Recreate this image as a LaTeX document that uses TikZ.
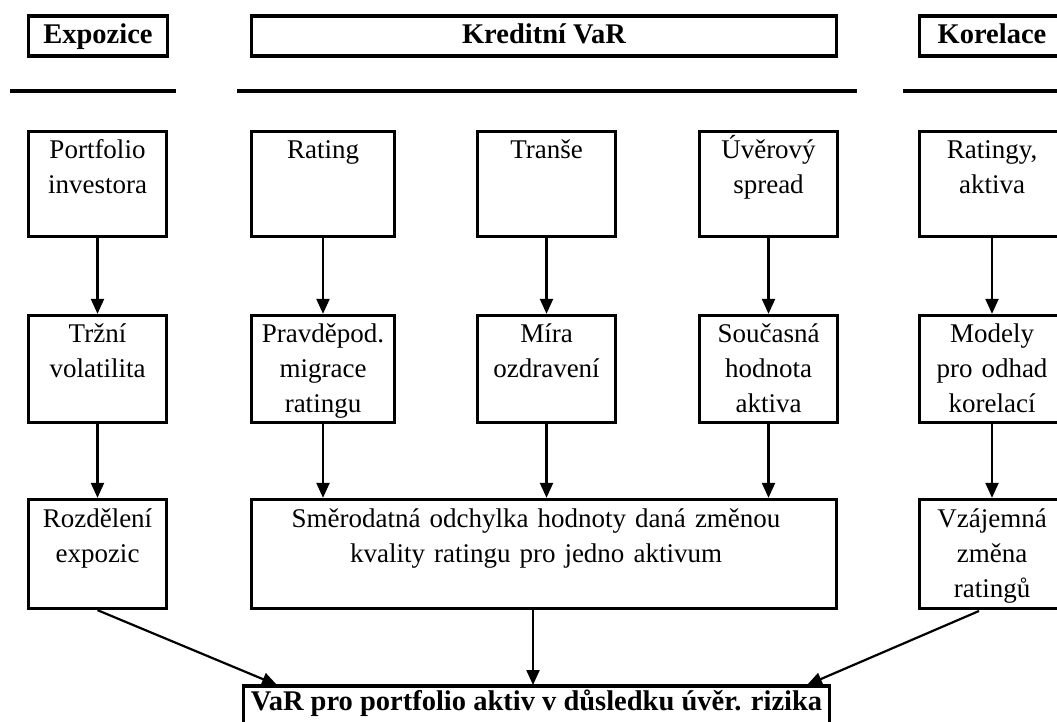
\documentclass[tikz,border=0pt]{standalone}
\usepackage{fontspec}
\setmainfont{Liberation Serif}
\usetikzlibrary{arrows.meta,calc}

\tikzset{
  frame/.style={draw, line width=3.3pt, inner sep=0pt},
  lbl/.style={inner sep=0pt, text width=#1, align=center,
    font=\fontsize{27}{35}\selectfont,
    execute at begin node={\rule{0pt}{26pt}}},
  lbl/.default=150pt,
  head/.style={inner sep=0pt, font=\fontsize{28.5}{33}\selectfont\bfseries},
  sep/.style={line width=3.5pt},
  arr/.style={line width=2.2pt, -{Triangle[length=15pt,width=13pt]}},
}

\begin{document}
\begin{tikzpicture}[x=1pt,y=-1pt]
\path[clip] (0,0) rectangle (1057,722);
\useasboundingbox (0,0) rectangle (1057,722);

% header boxes
\node[frame, minimum width=139pt, minimum height=40pt] (hE) at (98,36) {};
\node[head, anchor=base, yshift=-8pt] (hEt) at (hE.center) {Expozice};
\node[frame, minimum width=585pt, minimum height=40pt] (hK) at (544,36) {};
\node[head, anchor=base, yshift=-8pt] (hKt) at (hK.center) {Kreditní VaR};
\node[frame, minimum width=145pt, minimum height=40pt] (hC) at (992,36) {};
\node[head, anchor=base, yshift=-8pt] (hCt) at (hC.center) {Korelace};

% separator rules
\coordinate (s1a) at (10,91);  \coordinate (s1b) at (176,91);
\coordinate (s2a) at (237,91); \coordinate (s2b) at (857,91);
\coordinate (s3a) at (903,91); \coordinate (s3b) at (1057,91);
\draw[sep] (s1a) -- (s1b);
\draw[sep] (s2a) -- (s2b);
\draw[sep] (s3a) -- (s3b);

% first row
\node[frame, minimum width=138pt, minimum height=105pt] (a1) at (97.5,184) {};
\node[frame, minimum width=143pt, minimum height=105pt] (a2) at (323,184) {};
\node[frame, minimum width=138pt, minimum height=105pt] (a3) at (546.5,184) {};
\node[frame, minimum width=138pt, minimum height=105pt] (a4) at (768.5,184) {};
\node[frame, minimum width=145pt, minimum height=105pt] (a5) at (992,184) {};
\node[lbl, anchor=north, yshift=-2pt] (a1t) at (a1.north) {Portfolio\\investora};
\node[lbl, anchor=north, yshift=-2pt] (a2t) at (a2.north) {Rating};
\node[lbl, anchor=north, yshift=-2pt] (a3t) at (a3.north) {Tranše};
\node[lbl, anchor=north, yshift=-2pt] (a4t) at (a4.north) {Úvěrový\\spread};
\node[lbl, anchor=north, yshift=-2pt] (a5t) at (a5.north) {Ratingy,\\aktiva};

% second row
\node[frame, minimum width=138pt, minimum height=107pt] (b1) at (97.5,369) {};
\node[frame, minimum width=143pt, minimum height=107pt] (b2) at (323,369) {};
\node[frame, minimum width=138pt, minimum height=107pt] (b3) at (546.5,369) {};
\node[frame, minimum width=138pt, minimum height=107pt] (b4) at (768.5,369) {};
\node[frame, minimum width=145pt, minimum height=107pt] (b5) at (992,369) {};
\node[lbl, anchor=north, yshift=-2pt] (b1t) at (b1.north) {Tržní\\volatilita};
\node[lbl, anchor=north, yshift=-2pt] (b2t) at (b2.north) {Pravděpod.\\migrace\\ratingu};
\node[lbl, anchor=north, yshift=-2pt] (b3t) at (b3.north) {Míra\\ozdravení};
\node[lbl, anchor=north, yshift=-2pt] (b4t) at (b4.north) {Současná\\hodnota\\aktiva};
\node[lbl, anchor=north, yshift=-2pt] (b5t) at (b5.north) {Modely\\pro odhad\\korelací};

% third row
\node[frame, minimum width=138pt, minimum height=109pt] (c1) at (97.5,554) {};
\node[frame, minimum width=585pt, minimum height=109pt] (big) at (544,554) {};
\node[frame, minimum width=145pt, minimum height=109pt] (c5) at (992,554) {};
\node[lbl, anchor=north, yshift=-3pt] (c1t) at (c1.north) {Rozdělení\\expozic};
\node[lbl=570pt, anchor=north, yshift=-3pt, xshift=-8pt] (bigt) at (big.north) {Směrodatná odchylka hodnoty daná změnou\\kvality ratingu pro jedno aktivum};
\node[lbl, anchor=north, yshift=-3pt] (c5t) at (c5.north) {Vzájemná\\změna\\ratingů};

% result box
\node[frame, minimum width=586pt, minimum height=50pt] (vb) at (536.5,711) {};
\node[head, anchor=base] (vbt) at (536.5,710) {VaR pro portfolio aktiv v důsledku úvěr. rizika};

% connectors
\draw[arr] (a1.south) -- (b1.north);
\draw[arr] (a2.south) -- (b2.north);
\draw[arr] (a3.south) -- (b3.north);
\draw[arr] (a4.south) -- (b4.north);
\draw[arr] (a5.south) -- (b5.north);

\draw[arr] (b1.south) -- (c1.north);
\draw[arr] (b2.south) -- (b2.south |- big.north);
\draw[arr] (b3.south) -- (b3.south |- big.north);
\draw[arr] (b4.south) -- (b4.south |- big.north);
\draw[arr] (b5.south) -- (c5.north);

\coordinate (inL) at (277,685);
\coordinate (inM) at (533,685);
\coordinate (inR) at (807,685);
\coordinate (outR) at (979,611);
\draw[arr] (c1.south) -- (inL);
\draw[arr] (big.south -| inM) -- (inM);
\draw[arr] (outR) -- (inR);
\end{tikzpicture}
\end{document}
